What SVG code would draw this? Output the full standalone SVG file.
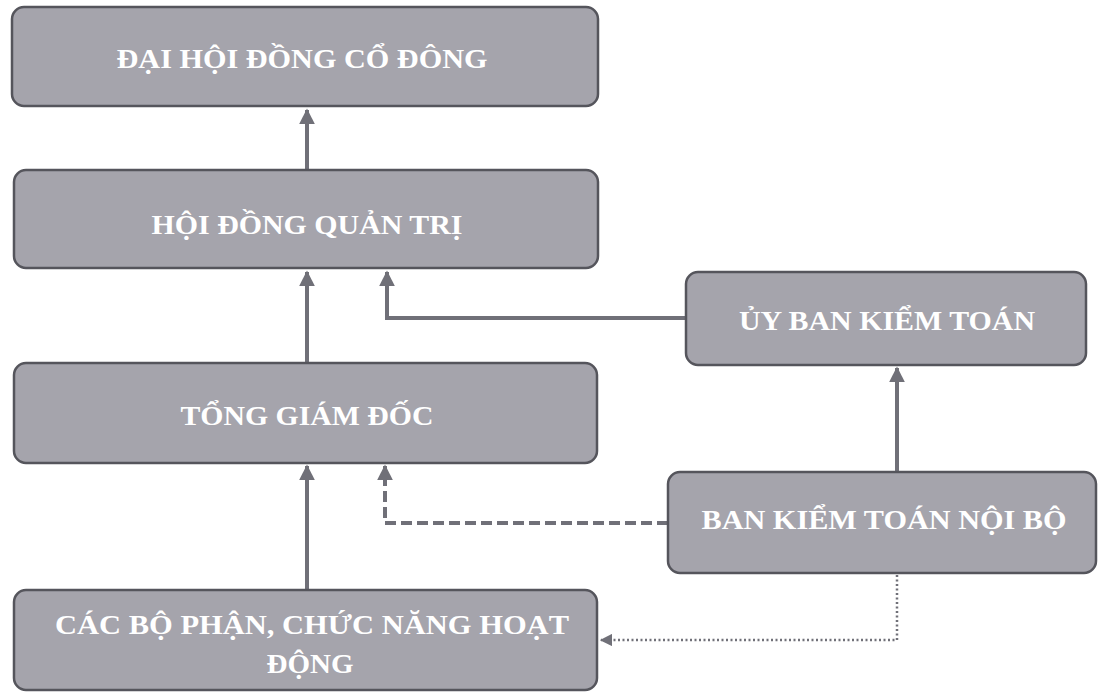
<svg xmlns="http://www.w3.org/2000/svg" width="1100" height="693" viewBox="0 0 1100 693">
<defs>
<style>
.box{fill:#a5a4ac;stroke:#55555c;stroke-width:2.5}
.t{font-family:"Liberation Serif","Times New Roman",serif;font-weight:bold;font-size:27px;fill:#ffffff;text-anchor:middle}
.c{fill:none;stroke:#707078;stroke-width:4}
.d{fill:none;stroke:#707078;stroke-width:4;stroke-dasharray:11 5}
.o{fill:none;stroke:#707078;stroke-width:2.5;stroke-dasharray:2 2.5}
</style>
<marker id="ah" viewBox="0 0 10 10" refX="9" refY="5" markerWidth="4" markerHeight="4" orient="auto" markerUnits="strokeWidth">
<path d="M0,0 L10,5 L0,10 z" fill="#707078"/>
</marker>
<marker id="ahs" viewBox="0 0 10 10" refX="9" refY="5" markerWidth="5" markerHeight="5" orient="auto" markerUnits="strokeWidth">
<path d="M0,0 L10,5 L0,10 z" fill="#707078"/>
</marker>
</defs>
<rect width="1100" height="693" fill="#ffffff"/>
<g id="connectors">
<path class="c" d="M307,170 L307,110" marker-end="url(#ah)"/>
<path class="c" d="M307,363 L307,272" marker-end="url(#ah)"/>
<path class="c" d="M686,318 L387,318 L387,272" marker-end="url(#ah)"/>
<path class="c" d="M897,472 L897,368" marker-end="url(#ah)"/>
<path class="c" d="M307,590 L307,466" marker-end="url(#ah)"/>
<path class="d" d="M668,523 L385,523 L385,466" marker-end="url(#ah)"/>
<path class="o" d="M897,575 L897,640 L601,640" marker-end="url(#ahs)"/>
</g>
<g id="n1"><rect class="box" x="12" y="7" width="586" height="99" rx="12"/><text class="t" x="302" y="68" textLength="371" lengthAdjust="spacingAndGlyphs">ĐẠI HỘI ĐỒNG CỔ ĐÔNG</text></g>
<g id="n2"><rect class="box" x="14" y="170" width="584" height="98" rx="12"/><text class="t" x="307" y="234" textLength="311" lengthAdjust="spacingAndGlyphs">HỘI ĐỒNG QUẢN TRỊ</text></g>
<g id="n3"><rect class="box" x="14" y="363" width="583" height="100" rx="12"/><text class="t" x="307" y="425" textLength="253" lengthAdjust="spacingAndGlyphs">TỔNG GIÁM ĐỐC</text></g>
<g id="n4"><rect class="box" x="14" y="590" width="583" height="100" rx="12"/><text class="t" x="312" y="634" textLength="514" lengthAdjust="spacingAndGlyphs">CÁC BỘ PHẬN, CHỨC NĂNG HOẠT</text><text class="t" x="310" y="673" textLength="87" lengthAdjust="spacingAndGlyphs">ĐỘNG</text></g>
<g id="n5"><rect class="box" x="686" y="272" width="400" height="93" rx="12"/><text class="t" x="887" y="330" textLength="296" lengthAdjust="spacingAndGlyphs">ỦY BAN KIỂM TOÁN</text></g>
<g id="n6"><rect class="box" x="668" y="472" width="428" height="101" rx="12"/><text class="t" x="884" y="529" textLength="365" lengthAdjust="spacingAndGlyphs">BAN KIỂM TOÁN NỘI BỘ</text></g>
</svg>
